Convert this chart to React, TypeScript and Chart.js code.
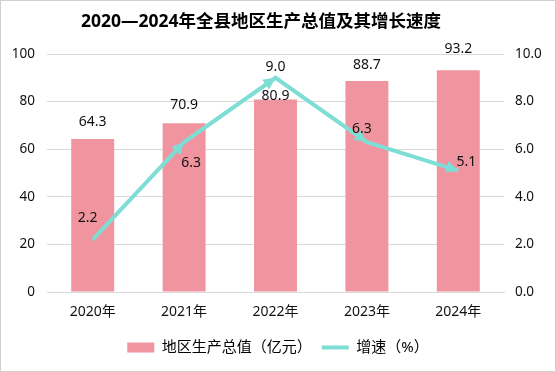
import React, { useEffect, useRef } from "react";
import { Chart, registerables } from "chart.js";

Chart.register(...registerables);

const titleText = "2020—2024年全县地区生产总值及其增长速度";
const categories = ["2020年", "2021年", "2022年", "2023年", "2024年"];
const gdpValues = [64.3, 70.9, 80.9, 88.7, 93.2];
const growthValues = [2.2, 6.3, 9.0, 6.3, 5.1];
const leftTicks = [0, 20, 40, 60, 80, 100];
const rightTicks = [0, 2, 4, 6, 8, 10];

const BAR_COLOR = "#F0959F";
const LINE_COLOR = "#7EDDD4";
const FONT = "'Noto Sans', 'Noto Sans CJK SC', sans-serif";

// label offsets (style only)
const barLabelDy = [-17, -18, -3, -16, -21];
const lineLabelOffsets = [
  [-5, -22],
  [7, 21],
  [0, -11],
  [-5, -13],
  [8, -9],
];

const titlePlugin = {
  id: "customTitle",
  afterDraw(chart: any) {
    const ctx = chart.ctx;
    ctx.save();
    ctx.font = `bold 17.5px ${FONT}`;
    ctx.fillStyle = "#000";
    ctx.textAlign = "center";
    ctx.textBaseline = "middle";
    ctx.fillText(titleText, chart.width / 2 - 17, 22);
    ctx.restore();
  },
};

const labelPlugin = {
  id: "labelsAndArrows",
  afterDatasetsDraw(chart: any) {
    const ctx = chart.ctx;
    const barMeta = chart.getDatasetMeta(0);
    const lineMeta = chart.getDatasetMeta(1);
    ctx.save();
    ctx.fillStyle = LINE_COLOR;
    const pts = lineMeta.data;
    for (let i = 1; i < pts.length; i++) {
      const p0 = pts[i - 1];
      const p1 = pts[i];
      const ang = Math.atan2(p1.y - p0.y, p1.x - p0.x);
      const len = 12;
      const hw = 6;
      const tx = p1.x;
      const ty = p1.y;
      const bx = tx - Math.cos(ang) * len;
      const by = ty - Math.sin(ang) * len;
      ctx.beginPath();
      ctx.moveTo(tx, ty);
      ctx.lineTo(bx + Math.sin(ang) * hw, by - Math.cos(ang) * hw);
      ctx.lineTo(bx - Math.sin(ang) * hw, by + Math.cos(ang) * hw);
      ctx.closePath();
      ctx.fill();
    }
    ctx.font = `14px ${FONT}`;
    ctx.fillStyle = "#111";
    ctx.textAlign = "center";
    ctx.textBaseline = "middle";
    barMeta.data.forEach((el: any, i: number) => {
      ctx.fillText(gdpValues[i].toFixed(1), el.x, el.y + barLabelDy[i]);
    });
    pts.forEach((el: any, i: number) => {
      const [dx, dy] = lineLabelOffsets[i];
      ctx.fillText(growthValues[i].toFixed(1), el.x + dx, el.y + dy);
    });
    ctx.restore();
  },
};

export default function App() {
  const ref = useRef<HTMLCanvasElement | null>(null);
  useEffect(() => {
    document.body.style.margin = "0";
    const chart = new Chart(ref.current!, {
      type: "bar",
      data: {
        labels: categories,
        datasets: [
          {
            type: "bar",
            label: "地区生产总值（亿元）",
            data: gdpValues,
            backgroundColor: BAR_COLOR,
            borderWidth: 0,
            yAxisID: "y",
            categoryPercentage: 1,
            barPercentage: 0.47,
            order: 2,
          },
          {
            type: "line",
            label: "增速（%）",
            data: growthValues,
            borderColor: LINE_COLOR,
            backgroundColor: LINE_COLOR,
            borderWidth: 4,
            pointRadius: 0,
            pointHoverRadius: 0,
            tension: 0,
            yAxisID: "y1",
            order: 1,
          } as any,
        ],
      },
      options: {
        animation: false,
        responsive: false,
        maintainAspectRatio: false,
        layout: { padding: { left: 0, right: 0, top: 54, bottom: 7 } },
        plugins: {
          title: { display: false },
          legend: {
            position: "bottom",
            labels: {
              color: "#111",
              font: { family: FONT, size: 15 },
              usePointStyle: true,
              boxHeight: 10,
              pointStyleWidth: 27,
              padding: 10,
              generateLabels: () => [
                {
                  text: "地区生产总值（亿元）",
                  fillStyle: BAR_COLOR,
                  strokeStyle: BAR_COLOR,
                  lineWidth: 0,
                  pointStyle: "rect",
                  datasetIndex: 0,
                  hidden: false,
                },
                {
                  text: "增速（%）",
                  fillStyle: LINE_COLOR,
                  strokeStyle: LINE_COLOR,
                  lineWidth: 4,
                  pointStyle: "line",
                  datasetIndex: 1,
                  hidden: false,
                },
              ],
            },
          },
          tooltip: { enabled: false },
        },
        scales: {
          x: {
            grid: { display: false, drawTicks: false },
            border: { display: true, color: "#d9d9d9" },
            ticks: { color: "#111", font: { family: FONT, size: 14 }, padding: 12 },
            afterFit: (s: any) => {
              s.height = 38;
            },
          },
          y: {
            position: "left",
            min: 0,
            max: 100,
            afterBuildTicks: (s: any) => {
              s.ticks = leftTicks.map((v) => ({ value: v }));
            },
            grid: { color: "#d9d9d9", drawTicks: false },
            border: { display: false },
            ticks: { color: "#111", font: { family: FONT, size: 13.5 }, padding: 12 },
            afterFit: (s: any) => {
              s.width = 47;
            },
          },
          y1: {
            position: "right",
            min: 0,
            max: 10,
            afterBuildTicks: (s: any) => {
              s.ticks = rightTicks.map((v) => ({ value: v }));
            },
            grid: { display: false, drawTicks: false },
            border: { display: false },
            ticks: {
              color: "#111",
              font: { family: FONT, size: 13.5 },
              padding: 11,
              callback: (v: any) => Number(v).toFixed(1),
            },
            afterFit: (s: any) => {
              s.width = 52;
            },
          },
        },
      },
      plugins: [labelPlugin, titlePlugin],
    });
    return () => chart.destroy();
  }, []);
  return (
    <div style={{ width: 556, height: 372, position: "relative", boxSizing: "border-box" }}>
      <canvas ref={ref} width={556} height={372} style={{ display: "block" }} />
      <div
        style={{
          position: "absolute",
          inset: 0,
          border: "1px solid #d0d0d0",
          pointerEvents: "none",
        }}
      />
    </div>
  );
}
